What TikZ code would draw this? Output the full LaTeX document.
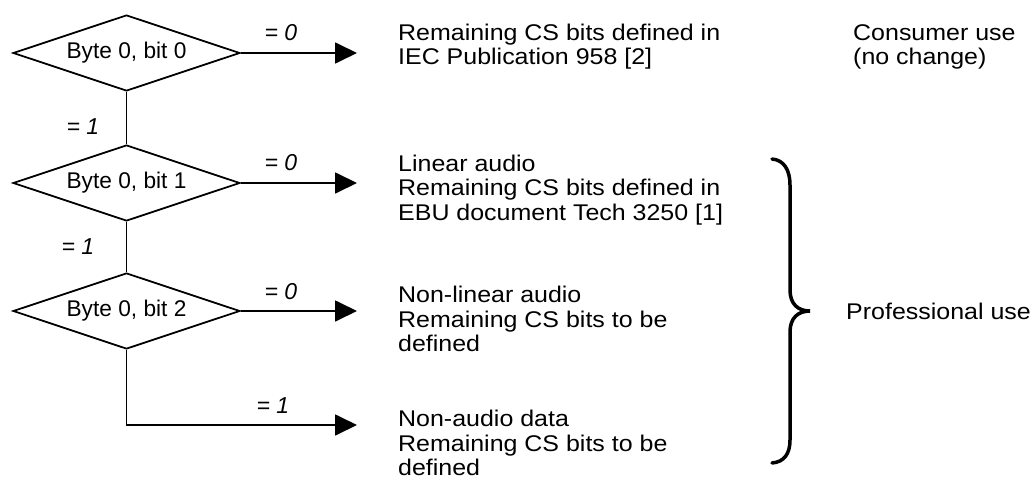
\documentclass[tikz,border=0pt]{standalone}
\usepackage{fontspec}
\setmainfont{Liberation Sans}
\newfontfamily\widefont[FakeStretch=1.1]{Liberation Sans}
\usetikzlibrary{shapes.geometric,arrows.meta}
\begin{document}
\begin{tikzpicture}[x=1pt,y=-1pt,
  decbox/.style={draw,line width=1.8pt,shape=diamond,aspect=3,inner sep=0pt,
    minimum width=227pt,minimum height=76pt,font=\fontsize{22.7}{26}\selectfont},
  conn/.style={line width=1.8pt},
  arr/.style={line width=1.8pt,-{Triangle[length=22pt,width=21pt]}},
  lbl/.style={font=\fontsize{23}{26}\selectfont\itshape,inner sep=0pt},
  desc/.style={font=\widefont\fontsize{22.7}{24.5}\selectfont,align=left,anchor=west,inner sep=0pt},
  bracestyle/.style={line width=3.5pt,line cap=round}]
\useasboundingbox (0,0) rectangle (1034,490);
\node[decbox] (d0) at (126.5,53) {Byte 0, bit 0};
\node[decbox] (d1) at (126.5,183) {Byte 0, bit 1};
\node[decbox] (d2) at (126.5,311) {Byte 0, bit 2};
\coordinate (e0) at (357,53);
\coordinate (e1) at (357,183);
\coordinate (e2) at (357,311);
\coordinate (e3) at (357,425);
\draw[arr] (d0.east) -- (e0);
\draw[arr] (d1.east) -- (e1);
\draw[arr] (d2.east) -- (e2);
\draw[conn] (d0.south) -- (d1.north);
\draw[conn] (d1.south) -- (d2.north);
\draw[arr] (d2.south) |- (e3);
\node[lbl] (l0) at (281,33) {= 0};
\node[lbl] (l1) at (281,163) {= 0};
\node[lbl] (l2) at (281,292) {= 0};
\node[lbl] (l3) at (273,406) {= 1};
\node[lbl] (m0) at (83,127) {= 1};
\node[lbl] (m1) at (78,247) {= 1};
\node[desc] (t0) at (398,46.5) {Remaining CS bits defined in\\IEC Publication 958 [2]};
\node[desc] (t1) at (398,190) {Linear audio\\Remaining CS bits defined in\\EBU document Tech 3250 [1]};
\node[desc] (t2) at (398,319) {Non-linear audio\\Remaining CS bits to be\\defined};
\node[desc] (t3) at (398,443) {Non-audio data\\Remaining CS bits to be\\defined};
\node[desc] (cu) at (853,47) {Consumer use\\(no change)};
\node[desc] (pu) at (846,311) {Professional use};
\draw[bracestyle] (772,159) .. controls (784,160) and (790,170) .. (790,185)
  -- (790,290) .. controls (790,304) and (798,311) .. (810,311)
  .. controls (798,311) and (790,318) .. (790,332)
  -- (790,440) .. controls (790,454) and (784,462) .. (772,463);
\end{tikzpicture}
\end{document}
